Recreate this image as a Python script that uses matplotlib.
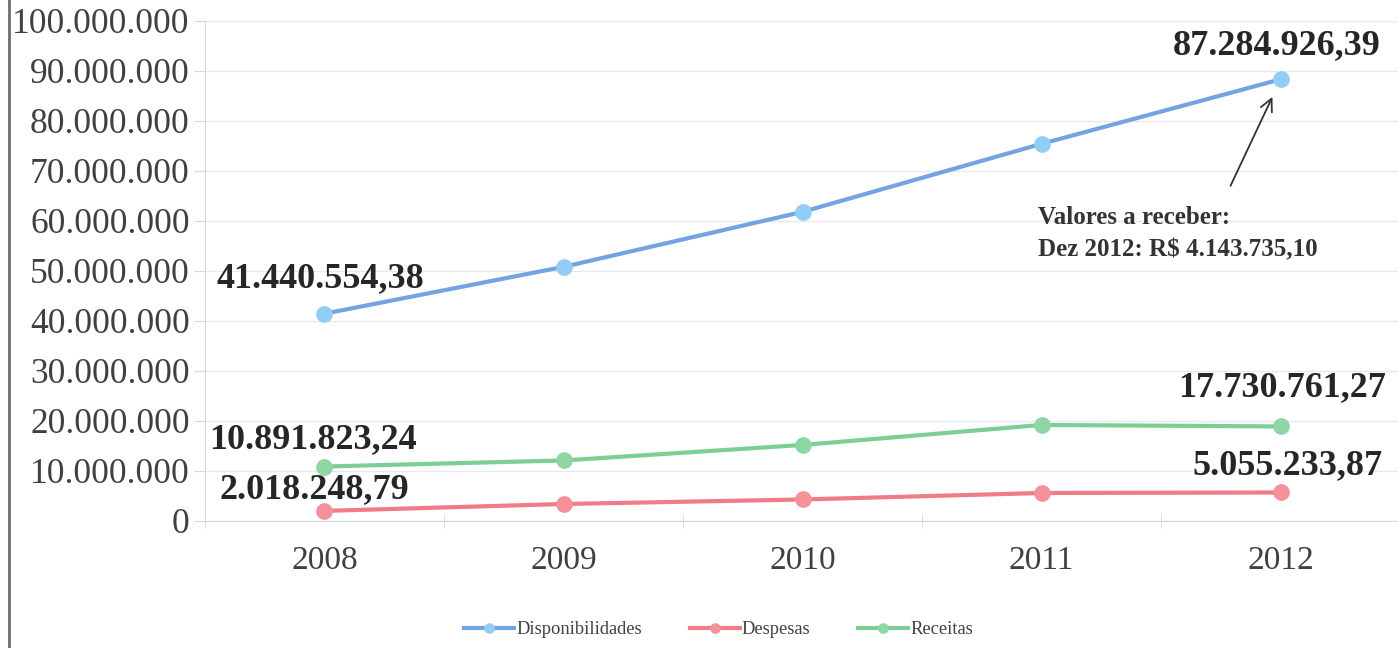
import numpy as np
import matplotlib
matplotlib.use('Agg')
import matplotlib.pyplot as plt
from matplotlib.lines import Line2D

plt.rcParams['font.family'] = ['Liberation Serif', 'DejaVu Serif']

# data
years = ['2008', '2009', '2010', '2011', '2012']
disponibilidades = [41440554.38, 50800000, 61800000, 75400000, 88300000]
despesas = [2018248.79, 3400000, 4300000, 5600000, 5700000]
receitas = [10891823.24, 12100000, 15200000, 19200000, 18900000]

labels_first = ['41.440.554,38', '2.018.248,79', '10.891.823,24']
labels_last = ['87.284.926,39', '5.055.233,87', '17.730.761,27']
yticks = np.arange(0, 100000001, 10000000)
ytick_labels = ['0'] + ['{:,}'.format(v).replace(',', '.') for v in yticks[1:]]
note = 'Valores a receber:\nDez 2012: R$ 4.143.735,10'

c_blue_line, c_blue_mk = '#74a3e2', '#92cdf6'
c_red_line, c_red_mk = '#f07c87', '#f4919a'
c_green_line, c_green_mk = '#7dce95', '#8ed6a3'

fig = plt.figure(figsize=(13.98, 6.48), dpi=100)
ax = fig.add_axes([0.1466, 0.196, 0.855, 0.772])

x = np.arange(len(years))
series = [(disponibilidades, c_blue_line, c_blue_mk, 'Disponibilidades'),
          (despesas, c_red_line, c_red_mk, 'Despesas'),
          (receitas, c_green_line, c_green_mk, 'Receitas')]
for vals, lc, mc, name in series:
    ax.plot(x, vals, color=lc, lw=3, marker='o', ms=11, mfc=mc, mec=mc,
            label=name, zorder=3)

ax.set_xlim(-0.5, len(years) - 0.5)
ax.set_ylim(0, 100000000)
ax.set_yticks(yticks)
ax.set_yticklabels(ytick_labels)
ax.set_xticks(x)
ax.set_xticklabels(years)
ax.set_xticks(np.arange(-0.5, len(years)), minor=True)

ax.grid(axis='y', color='#e6eaef', lw=1)
ax.set_axisbelow(True)
for s in ['top', 'right']:
    ax.spines[s].set_visible(False)
ax.spines['left'].set_color('#d4d8dd')
ax.spines['bottom'].set_color('#d4d8dd')
ax.tick_params(axis='y', length=8, color='#d4d8dd', labelsize=25.5,
               labelcolor='#404040', pad=3)
ax.tick_params(axis='x', which='major', length=0, labelsize=24,
               labelcolor='#404040', pad=18)
ax.tick_params(axis='x', which='minor', length=10, direction='inout',
               color='#d4d8dd')

# data labels
first_offsets = [(-3, 25), (-7, 15), (-8, 19)]
last_offsets = [(-3, 24), (5, 19), (1, 28)]
for i, (vals, lc, mc, name) in enumerate(series):
    ax.annotate(labels_first[i], (0, vals[0]), xytext=first_offsets[i],
                textcoords='offset points', ha='center', va='center',
                fontsize=26, fontweight='bold', color='#262626')
    ax.annotate(labels_last[i], (4, vals[-1]), xytext=last_offsets[i],
                textcoords='offset points', ha='center', va='center',
                fontsize=26, fontweight='bold', color='#262626')

# note with arrow
ax.annotate('', xy=(4, disponibilidades[-1]), xytext=(3.79, 67000000),
            arrowprops=dict(arrowstyle='->', color='#333333', lw=1.3,
                            shrinkA=0, shrinkB=14, mutation_scale=22))
ax.text(2.985, 57500000, note, ha='left', va='center', fontsize=18,
        fontweight='bold', color='#333333', linespacing=1.5)

leg = fig.legend(loc='center', bbox_to_anchor=(0.514, 0.028), ncol=3,
                 frameon=False, fontsize=13.3, handlelength=2.7,
                 columnspacing=2.6, handletextpad=0.1, markerscale=0.6)
for t in leg.get_texts():
    t.set_color('#404040')

# scanned frame edge on the left
fig.add_artist(Line2D([0.0065, 0.0065], [0, 1], transform=fig.transFigure,
                      color='#6e6e6e', lw=2))

fig.savefig('out.png', dpi=100)
